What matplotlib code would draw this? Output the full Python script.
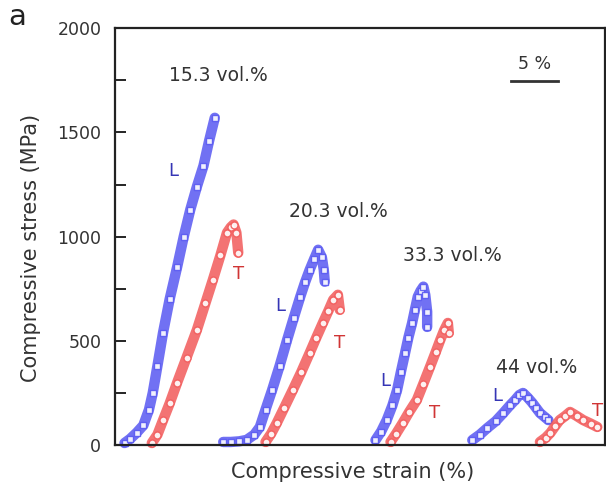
import numpy as np
import matplotlib.pyplot as plt

plt.rcParams['font.family'] = ['DejaVu Sans']

# strain (%) is offset per curve as in the original figure, stress in MPa
l153_x = [1.0, 1.6, 2.3, 3.0, 3.6, 4.0, 4.5, 5.1, 5.8, 6.6, 7.3, 8.0, 8.7, 9.4, 10.0, 10.6]
l153_y = [10, 30, 60, 95, 170, 250, 380, 540, 700, 855, 1000, 1130, 1240, 1340, 1460, 1570]
t153_x = [3.9, 4.5, 5.1, 5.8, 6.6, 7.6, 8.7, 9.6, 10.4, 11.2, 11.9, 12.3, 12.6, 12.9, 13.1]
t153_y = [10, 50, 120, 200, 300, 420, 553, 680, 793, 910, 1019, 1045, 1058, 1019, 923]

l203_x = [11.5, 12.3, 13.2, 14.0, 14.8, 15.4, 16.0, 16.7, 17.5, 18.3, 19.0, 19.7, 20.2, 20.7, 21.2, 21.6, 22.0, 22.2, 22.3]
l203_y = [15, 15, 18, 25, 50, 87, 170, 264, 380, 505, 610, 712, 780, 841, 895, 937, 900, 840, 784]
t203_x = [16.0, 16.6, 17.2, 18.0, 18.9, 19.8, 20.7, 21.4, 22.1, 22.7, 23.2, 23.7, 23.9]
t203_y = [15, 55, 106, 180, 264, 350, 442, 515, 586, 645, 697, 721, 649]

l333_x = [27.7, 28.3, 28.9, 29.5, 30.0, 30.4, 30.85, 31.2, 31.6, 31.9, 32.2, 32.5, 32.8, 33.0, 33.2, 33.2]
l333_y = [24, 65, 120, 190, 264, 350, 442, 515, 586, 650, 712, 740, 760, 720, 640, 567]
t333_x = [29.3, 29.9, 30.6, 31.3, 32.1, 32.8, 33.5, 34.1, 34.6, 35.0, 35.4, 35.5]
t333_y = [15, 55, 106, 160, 216, 295, 375, 445, 505, 550, 586, 538]

l44_x = [38.0, 38.8, 39.6, 40.5, 41.3, 42.0, 42.55, 43.0, 43.4, 43.9, 44.4, 44.8, 45.2, 45.7, 46.1]
l44_y = [24, 50, 82, 115, 154, 190, 216, 240, 250, 228, 202, 178, 154, 135, 120]
t44_x = [45.2, 45.8, 46.3, 46.8, 47.3, 47.9, 48.4, 49.1, 49.8, 50.6, 51.3]
t44_y = [15, 35, 58, 90, 120, 140, 159, 140, 120, 103, 87]

groups = ['15.3 vol.%', '20.3 vol.%', '33.3 vol.%', '44 vol.%']
group_pos = [(11.0, 1775), (23.7, 1120), (35.9, 910), (44.9, 370)]
l_pos = [(6.2, 1313), (17.55, 668), (28.7, 308), (40.7, 236)]
t_pos = [(13.1, 822), (23.9, 490), (34.0, 154), (51.3, 163)]

blue = '#5858f2'
red = '#f25a5a'

fig = plt.figure(figsize=(6.06, 4.94), dpi=100)
ax = fig.add_axes([0.19, 0.099, 0.808, 0.844])

L_curves = [(l153_x, l153_y), (l203_x, l203_y), (l333_x, l333_y), (l44_x, l44_y)]
T_curves = [(t153_x, t153_y), (t203_x, t203_y), (t333_x, t333_y), (t44_x, t44_y)]

for (lx, ly), (tx, ty) in zip(L_curves, T_curves):
    ax.plot(lx, ly, '-', color=blue, lw=7.5, alpha=0.85, solid_capstyle='round', clip_on=False)
    ax.plot(lx, ly, 's', ms=5, mfc='white', mec=blue, mew=1, ls='none', alpha=0.9, clip_on=False)
    ax.plot(tx, ty, '-', color=red, lw=7.5, alpha=0.85, solid_capstyle='round', clip_on=False)
    ax.plot(tx, ty, 'o', ms=5, mfc='white', mec=red, mew=1, ls='none', alpha=0.9, clip_on=False)

for label, (x, y) in zip(groups, group_pos):
    ax.text(x, y, label, ha='center', va='center', fontsize=13.5, color='#333333')
for (x, y) in l_pos:
    ax.text(x, y, 'L', ha='center', va='center', fontsize=13, color='#3535b5')
for (x, y) in t_pos:
    ax.text(x, y, 'T', ha='center', va='center', fontsize=13, color='#d03535')

# 5 % scale bar
ax.plot([42.1, 47.1], [1745, 1745], color='#333333', lw=2)
ax.text(44.6, 1830, '5 %', ha='center', va='center', fontsize=12.5, color='#333333')

ax.set_xlim(0, 52.1)
ax.set_ylim(0, 2000)
ax.set_xticks([])
ax.set_yticks([0, 500, 1000, 1500, 2000])
ax.set_yticks([250, 750, 1250, 1750], minor=True)
ax.tick_params(axis='y', which='both', direction='in', length=8, width=1.2,
               labelsize=12.5, labelcolor='#333333', pad=10)
for s in ax.spines.values():
    s.set_linewidth(1.6)
    s.set_color('#222222')

ax.set_ylabel('Compressive stress (MPa)', fontsize=15, color='#333333', va='center')
ax.yaxis.set_label_coords(-0.171, 0.472)
ax.set_xlabel('Compressive strain (%)', fontsize=15, color='#333333', va='center')
ax.xaxis.set_label_coords(0.486, -0.065)

fig.text(0.013, 0.965, 'a', fontsize=21, color='#222222', va='center')

fig.savefig('out.png', dpi=100)
